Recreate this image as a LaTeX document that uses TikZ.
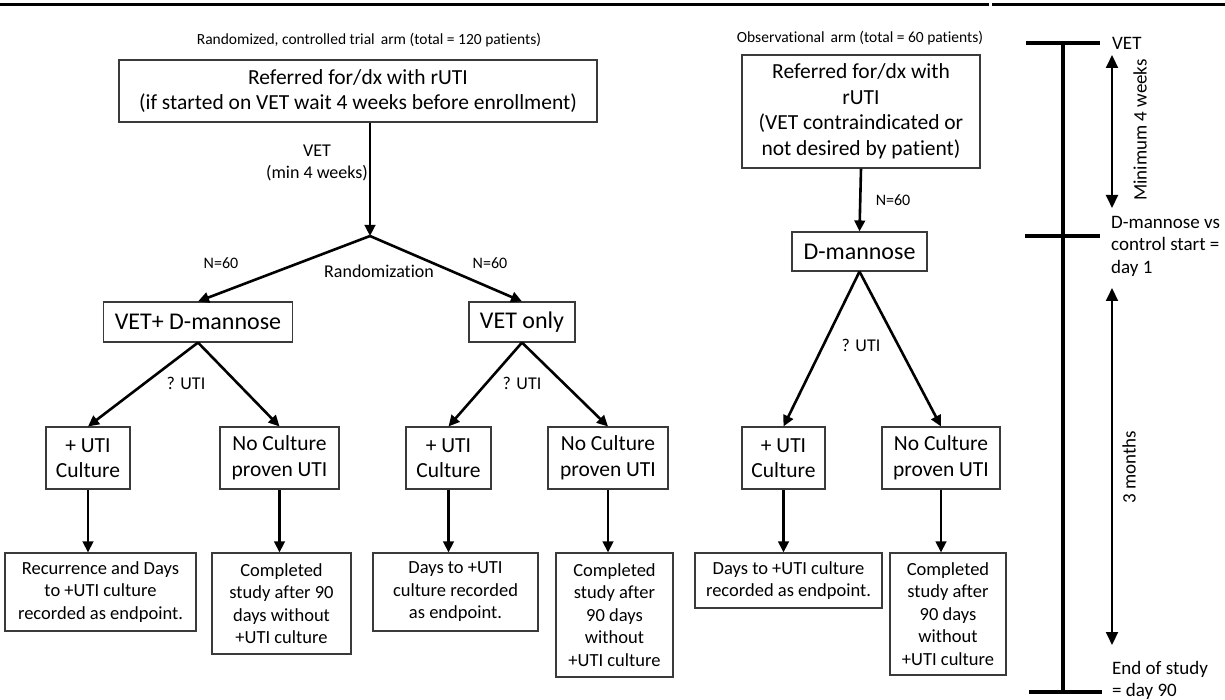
\documentclass[tikz,border=0pt]{standalone}
\usepackage{fontspec}
\setmainfont{Carlito}[Ligatures=CommonOff]
\usepackage{tikz}
\definecolor{ink}{HTML}{000000}
\definecolor{rim}{HTML}{3a3a3a}
\usetikzlibrary{arrows.meta}
\usetikzlibrary{calc}

\begin{document}
\begin{tikzpicture}[x=1pt, y=-1pt,
		box/.style={draw=rim, line width=1.1pt, inner sep=0pt, align=center, font=\fontsize{21.5}{25.5}\selectfont},
		bigbox/.style={box, font=\fontsize{24}{28}\selectfont},
		endbox/.style={box, font=\fontsize{18.5}{22.5}\selectfont},
		lbl/.style={inner sep=0pt, align=center, font=\fontsize{18}{22.5}\selectfont},
		ttl/.style={inner sep=0pt, font=\fontsize{15.5}{18}\selectfont},
		side/.style={inner sep=0pt, align=left, font=\fontsize{19}{22.5}\selectfont},
		conn/.style={ink, line width=2.6pt, -{Triangle[length=11pt,width=10.5pt]}},
		spanarr/.style={ink, line width=2pt, {Triangle[length=13pt,width=12pt]}-{Triangle[length=13pt,width=12pt]}},
		tickbar/.style={ink, line width=3.8pt}]

			\useasboundingbox (0,0) rectangle (1225,700);

			\draw[ink, line width=3pt] (0,5) -- (989,5);
			\draw[ink, line width=3pt] (992,5) -- (1225,5);

			\node[ttl] (ttlA) at (369,40) {Randomized, controlled trial\ \,arm (total = 120 patients)};
			\node[ttl] (ttlB) at (860,38) {Observational\ \,arm (total = 60 patients)};

			\node[box, minimum width=478pt, minimum height=62pt] (refA) at (358,91) {Referred for/dx with rUTI\\(if started on VET wait 4 weeks before enrollment)};
			\node[box, minimum width=238pt, minimum height=113pt] (refB) at (861,111.5) {Referred for/dx with\\rUTI\\(VET contraindicated or\\not desired by patient)};

			\coordinate (rnd) at (370,236);

			\node[bigbox, minimum width=189pt, minimum height=40pt] (vd) at (198,322) {VET+ D-mannose};
			\node[bigbox, minimum width=106pt, minimum height=40pt] (vo) at (522,322) {VET only};
			\node[bigbox, minimum width=135pt, minimum height=39pt] (dm) at (859.5,251.5) {D-mannose};

			\node[box, minimum width=84pt, minimum height=62pt] (pu1) at (88,458) {+ UTI\\Culture};
			\node[box, minimum width=119pt, minimum height=62pt] (nc1) at (279.5,458) {No Culture\\proven UTI};
			\node[box, minimum width=85pt, minimum height=62pt] (pu2) at (448.5,458) {+ UTI\\Culture};
			\node[box, minimum width=120pt, minimum height=62pt] (nc2) at (608,458) {No Culture\\proven UTI};
			\node[box, minimum width=83pt, minimum height=62pt] (pu3) at (783.5,458) {+ UTI\\Culture};
			\node[box, minimum width=118pt, minimum height=62pt] (nc3) at (941,458) {No Culture\\proven UTI};

			\node[endbox, minimum width=191pt, minimum height=78pt] (rA) at (100.5,592) {Recurrence and Days\\to +UTI culture\\recorded as endpoint.};
			\node[endbox, minimum width=139pt, minimum height=101pt] (cA) at (281.5,603.5) {Completed\\study after 90\\days without\\+UTI culture};
			\node[endbox, minimum width=165pt, minimum height=78pt] (dB) at (455.5,592) {Days to +UTI\\culture recorded\\as endpoint.};
			\node[endbox, minimum width=117pt, minimum height=124pt] (cB) at (614.5,615) {Completed\\study after\\90 days\\without\\+UTI culture};
			\node[endbox, minimum width=187pt, minimum height=55pt] (dC) at (788.5,580.5) {Days to +UTI culture\\recorded as endpoint.};
			\node[endbox, minimum width=116pt, minimum height=122pt] (cC) at (948,614) {Completed\\study after\\90 days\\without\\+UTI culture};

			\node[lbl] (minvet) at (317,163) {VET\\(min 4 weeks)};
			\node[lbl, font=\fontsize{16}{19}\selectfont] (nA) at (221,263) {N=60};
			\node[lbl, font=\fontsize{16}{19}\selectfont] (nB) at (490,263) {N=60};
			\node[lbl, font=\fontsize{16}{19}\selectfont] (nC) at (893,200) {N=60};
			\node[lbl] (rz) at (379,271) {Randomization};
			\node[lbl] (qA) at (186,383) {? UTI};
			\node[lbl] (qB) at (522,383) {? UTI};
			\node[lbl] (qC) at (861,345) {? UTI};

			\draw[conn] (refA.south -| rnd) -- (rnd);
			\draw[conn] (rnd) -- (vd.north);
			\draw[conn] (rnd) -- (vo.north);
			\draw[conn] (refB.south) -- (dm.north);

			\draw[conn] (vd.south) -- (pu1.north);
			\draw[conn] (vd.south) -- (nc1.north);
			\draw[conn] (vo.south) -- (pu2.north);
			\draw[conn] (vo.south) -- (nc2.north);
			\draw[conn] (dm.south) -- (pu3.north);
			\draw[conn] (dm.south) -- (nc3.north);

			\draw[conn] (pu1.south) -- (pu1.south |- rA.north);
			\draw[conn] (nc1.south) -- (nc1.south |- cA.north);
			\draw[conn] (pu2.south) -- (pu2.south |- dB.north);
			\draw[conn] (nc2.south) -- (nc2.south |- cB.north);
			\draw[conn] (pu3.south) -- (pu3.south |- dC.north);
			\draw[conn] (nc3.south) -- (nc3.south |- cC.north);

			\coordinate (tVET) at (1063,43);
			\coordinate (tStart) at (1063,236);
			\coordinate (tEnd) at (1063,692);

			\draw[tickbar] (tVET) -- (tEnd);
			\draw[tickbar] ([xshift=-37pt]tVET) -- ([xshift=37pt]tVET);
			\draw[tickbar] ([xshift=-38pt]tStart) -- ([xshift=37pt]tStart);
			\draw[tickbar] ([xshift=-34pt]tEnd) -- ([xshift=39pt]tEnd);

			\coordinate (wA) at (1112,55);
			\coordinate (wB) at (1112,208);
			\coordinate (mA) at (1112,288);
			\coordinate (mB) at (1112,645);

			\draw[spanarr] (wA) -- (wB);
			\draw[spanarr] (mA) -- (mB);

			\node[side, anchor=west] (lVET) at (1112,43) {VET};
			\node[side, anchor=north west] (lStart) at (1111,216) {D-mannose vs\\control start =\\day 1};
			\node[side, anchor=north west] (lEnd) at (1112,661) {End of study\\= day 90};
			\node[side, rotate=90] (lWeeks) at (1140,130) {Minimum 4 weeks};
			\node[side, rotate=90] (lMonths) at (1129,467) {3 months};

		\end{tikzpicture}
\end{document}
